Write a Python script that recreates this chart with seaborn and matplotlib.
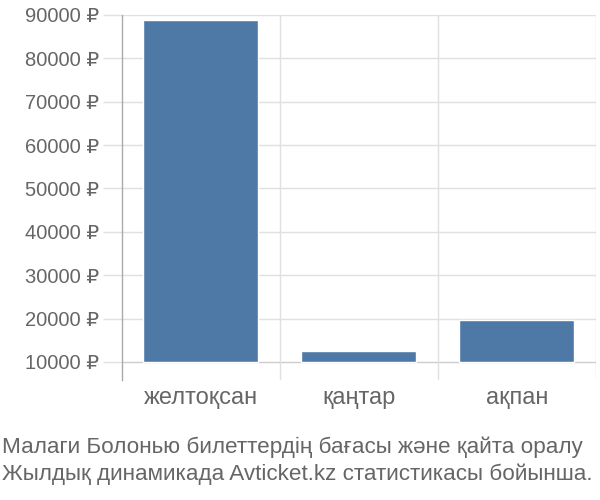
import numpy as np
import pandas as pd
import matplotlib
matplotlib.use("Agg")
import matplotlib.pyplot as plt
import seaborn as sns

# data
months = ["желтоқсан", "қаңтар", "ақпан"]
prices = [88900, 12500, 19700]
base = 10000
y_ticks = [10000, 20000, 30000, 40000, 50000, 60000, 70000, 80000, 90000]
caption = ["Малаги Болонью билеттердің бағасы және қайта оралу",
           "Жылдық динамикада Avticket.kz статистикасы бойынша."]

sns.set_style("white")
plt.rcParams['font.family'] = ['Liberation Sans', 'DejaVu Sans']

df = pd.DataFrame({"month": months, "price": prices})

fig = plt.figure(figsize=(6, 5), dpi=100)
ax = fig.add_axes([0.203, 0.24, 0.790, 0.73])

sns.barplot(data=df, x="month", y="price", color="#4e79a7", saturation=1,
            width=0.73, ax=ax, zorder=3)

# bars start at the 10000 baseline
for p, v in zip(ax.patches, prices):
    p.set_y(base)
    p.set_height(v - base)

ax.set_ylim(5850, 90000)
ax.set_xlim(-0.5, 2.5)
ax.set_yticks(y_ticks)
ax.set_yticklabels([f"{t} ₽" for t in y_ticks])
ax.set_xlabel("")
ax.set_ylabel("")

# horizontal grid + vertical separators between categories
for t in y_ticks:
    ax.axhline(t, color="#cccccc" if t == base else "#e0e0e0", lw=1, zorder=1)
for xb in [0.5, 1.5, 2.5]:
    ax.axvline(xb, color="#e0e0e0", lw=1, zorder=1)

for s in ["top", "right", "bottom"]:
    ax.spines[s].set_visible(False)
ax.spines["left"].set_color("#aaaaaa")
ax.spines["left"].set_linewidth(1)

ax.tick_params(axis="y", length=14, color="#e0e0e0", width=1, labelsize=14.5,
               labelcolor="#666666", pad=2, left=True)
ax.tick_params(axis="x", length=0, labelsize=17, labelcolor="#666666", pad=5)

fig.text(0.003, 0.105, caption[0], fontsize=16.2, color="#666666", va="center")
fig.text(0.003, 0.051, caption[1], fontsize=16.2, color="#666666", va="center")

fig.savefig("out.png", dpi=100)
